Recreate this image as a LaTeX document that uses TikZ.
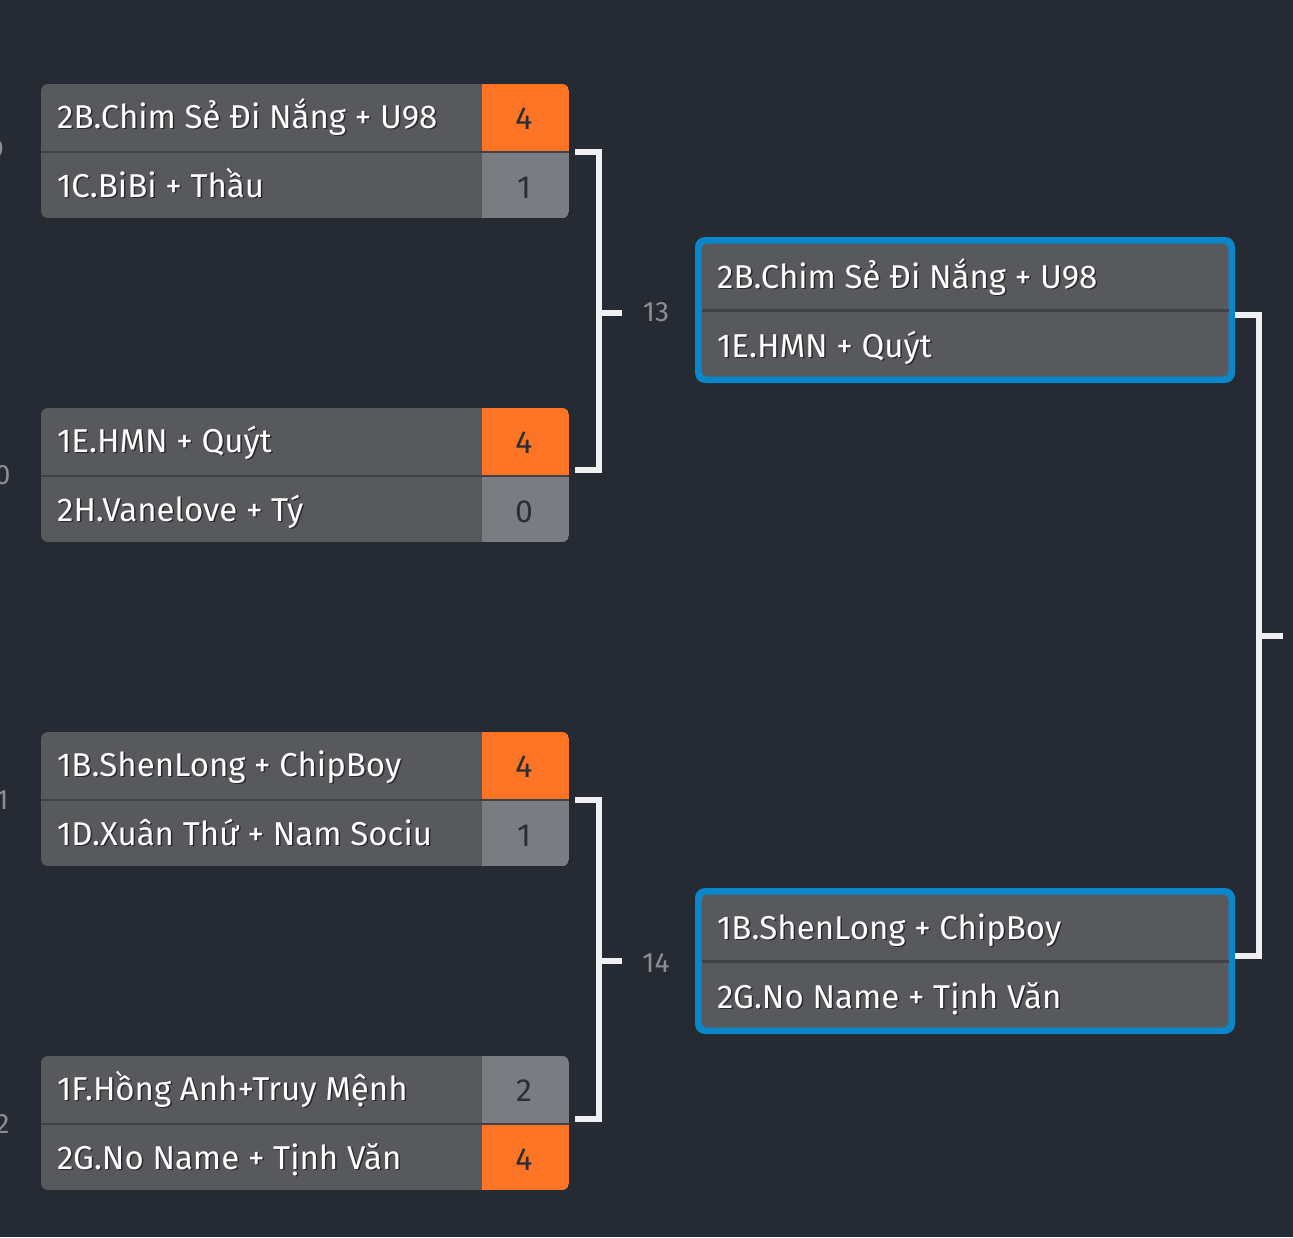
\documentclass[tikz,border=0pt]{standalone}
\usepackage{fontspec}
\setmainfont{Fira Sans}
\definecolor{bgc}{HTML}{262A33}
\definecolor{rowc}{HTML}{58595D}
\definecolor{scorec}{HTML}{7A7C81}
\definecolor{orangec}{HTML}{FD7524}
\definecolor{divc}{HTML}{404147}
\definecolor{bluec}{HTML}{0A87CA}
\definecolor{linec}{HTML}{F0F0F2}
\definecolor{lblc}{HTML}{8B8E94}
\definecolor{scoretxt}{HTML}{2B2E35}
\tikzset{
  team/.style={anchor=base west, text=white, font=\fontsize{33}{39}\selectfont, inner sep=0pt},
  teamshadow/.style={team, text=black, opacity=0.55},
  scorenum/.style={anchor=base, text=scoretxt, font=\fontsize{32}{38}\selectfont, inner sep=0pt},
  lbl/.style={anchor=center, text=lblc, font=\fontsize{28}{32}\selectfont, inner sep=0pt},
  conn/.style={draw=linec, line width=5.5pt},
}
% #1 id, #2 top, #3 team1, #4 score1, #5 fill1, #6 team2, #7 score2, #8 fill2
\newcommand\firstmatch[8]{%
  \begin{scope}
    \path[clip, rounded corners=7pt] (41,#2) rectangle (569,#2+134);
    \fill[rowc] (41,#2) rectangle (569,#2+134);
    \fill[#5] (482,#2) rectangle (569,#2+68);
    \fill[#8] (482,#2+68) rectangle (569,#2+134);
    \fill[divc] (41,#2+66.5) rectangle (569,#2+69);
  \end{scope}
  \node[teamshadow] (#1as) at (58.5,#2+45.5) {#3};
  \node[team] (#1a) at (57,#2+44) {#3};
  \node[teamshadow] (#1bs) at (58.5,#2+114.5) {#6};
  \node[team] (#1b) at (57,#2+113) {#6};
  \node[scorenum] (#1sa) at (524,#2+45) {#4};
  \node[scorenum] (#1sb) at (524,#2+114) {#7};
}
% #1 id, #2 top, #3 team1, #4 team2
\newcommand\secondmatch[4]{%
  \fill[bluec, rounded corners=10pt] (695,#2) rectangle (1235,#2+146);
  \fill[rowc, rounded corners=6pt] (701.5,#2+6.5) rectangle (1228.5,#2+139.5);
  \fill[divc] (701.5,#2+72) rectangle (1228.5,#2+74.5);
  \node[teamshadow] (#1as) at (718.5,#2+52.5) {#3};
  \node[team] (#1a) at (717,#2+51) {#3};
  \node[teamshadow] (#1bs) at (718.5,#2+121.5) {#4};
  \node[team] (#1b) at (717,#2+120) {#4};
}
\begin{document}
\begin{tikzpicture}[x=1pt,y=-1pt]
\useasboundingbox (0,0) rectangle (1293,1237);
\fill[bgc] (0,0) rectangle (1293,1237);

% labels of the previous round, cut by the left edge as in the reference
\begin{scope}
  \clip (0,0) rectangle (1293,1237);
  \node[lbl] (l9) at (-3.5,150) {9};
  \node[lbl] (l10) at (-3.5,475) {10};
  \node[lbl] (l11) at (-3.5,800) {11};
  \node[lbl] (l12) at (-3.5,1124) {12};
\end{scope}

\firstmatch{m1}{84}{2B.Chim Sẻ Đi Nắng + U98}{4}{orangec}{1C.BiBi + Thầu}{1}{scorec}
\firstmatch{m2}{408}{1E.HMN + Quýt}{4}{orangec}{2H.Vanelove + Tý}{0}{scorec}
\firstmatch{m3}{732}{1B.ShenLong + ChipBoy}{4}{orangec}{1D.Xuân Thứ + Nam Sociu}{1}{scorec}
\firstmatch{m4}{1056}{1F.Hồng Anh+Truy Mệnh}{2}{scorec}{2G.No Name + Tịnh Văn}{4}{orangec}

\secondmatch{m13}{237}{2B.Chim Sẻ Đi Nắng + U98}{1E.HMN + Quýt}
\secondmatch{m14}{888}{1B.ShenLong + ChipBoy}{2G.No Name + Tịnh Văn}

% connector coordinates
\coordinate (m1out) at (575,152);
\coordinate (m2out) at (575,470);
\coordinate (j13) at (599,313);
\coordinate (s13) at (622,313);
\coordinate (m3out) at (575,800);
\coordinate (m4out) at (575,1119);
\coordinate (j14) at (599,961);
\coordinate (s14) at (622,961);
\coordinate (m13out) at (1235,315);
\coordinate (m14out) at (1235,956);
\coordinate (jf) at (1259,636);
\coordinate (sf) at (1283,636);

\draw[conn] (m1out) -| (j13) |- (m2out);
\draw[conn] (j13) -- (s13);
\draw[conn] (m3out) -| (j14) |- (m4out);
\draw[conn] (j14) -- (s14);
\draw[conn] (m13out) -| (jf) |- (m14out);
\draw[conn] (jf) -- (sf);

\node[lbl] (l13) at (656,312) {13};
\node[lbl] (l14) at (656,963) {14};
\end{tikzpicture}
\end{document}
